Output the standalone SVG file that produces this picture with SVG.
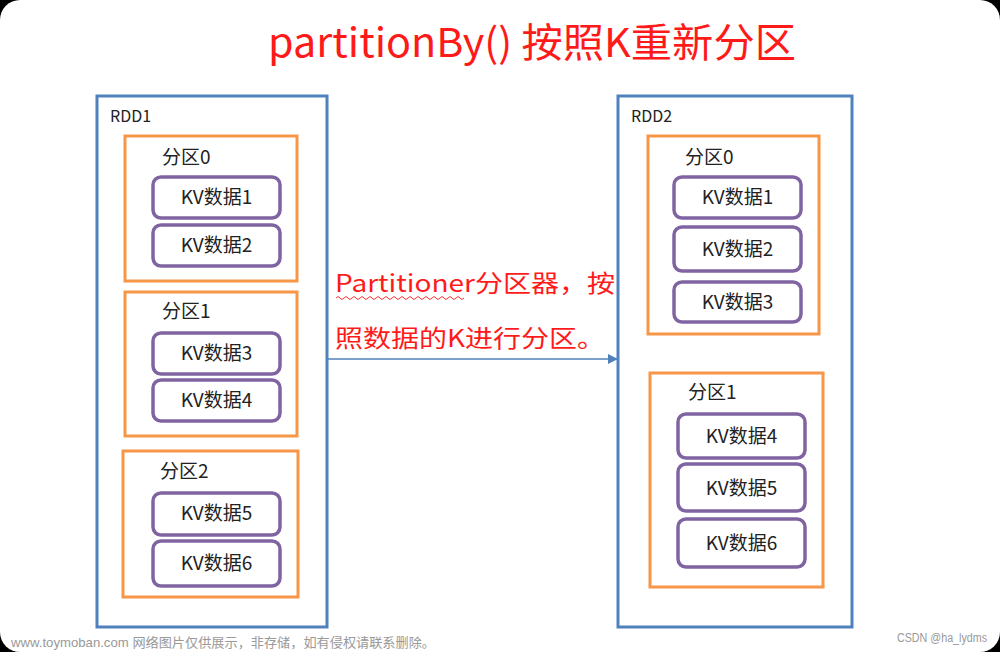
<svg xmlns="http://www.w3.org/2000/svg" width="1000" height="652" viewBox="0 0 1000 652">
<defs>
<style>
.rdd{fill:none;stroke:#4f81bd;stroke-width:3}
.part{fill:none;stroke:#f79646;stroke-width:3}
.kv{fill:#fff;stroke:#8064a2;stroke-width:3.5}
.t{font-family:"Noto Sans CJK SC","Noto Sans",sans-serif;fill:#222}
.kvt{font-size:19px;text-anchor:middle}
.pt{font-size:19px}
.red{font-family:"Noto Sans CJK SC","Noto Sans",sans-serif;fill:#ff1a1a}
.foot{font-family:"Liberation Sans","Noto Sans CJK SC",sans-serif;fill:#999}
</style>
<marker id="arr" viewBox="0 0 10 10" refX="9" refY="5" markerWidth="10" markerHeight="10" markerUnits="userSpaceOnUse" orient="auto">
<path d="M0,0 L10,5 L0,10 z" fill="#4f81bd"/>
</marker>
</defs>
<rect x="0" y="0" width="1000" height="652" fill="#000"/>
<rect x="0" y="0" width="1000" height="652" rx="20" ry="20" fill="#fff"/>

<text id="title" class="red" x="268" y="57" font-size="40" textLength="528" lengthAdjust="spacingAndGlyphs">partitionBy() 按照K重新分区</text>

<g id="connectors">
<line x1="328" y1="359" x2="617" y2="359" stroke="#4f81bd" stroke-width="1.5" marker-end="url(#arr)"/>
</g>
<g id="label">
<text class="red" x="335" y="292" font-size="24" textLength="280" lengthAdjust="spacingAndGlyphs">Partitioner分区器，按</text>
<path d="M336,298 q2,-3 4,0 t4,0 t4,0 t4,0 t4,0 t4,0 t4,0 t4,0 t4,0 t4,0 t4,0 t4,0 t4,0 t4,0 t4,0 t4,0 t4,0 t4,0 t4,0 t4,0 t4,0 t4,0 t4,0 t4,0 t4,0 t4,0 t4,0 t4,0 t4,0 t4,0 t4,0 t4,0" fill="none" stroke="#ff3333" stroke-width="1"/>
<text class="red" x="335" y="347" font-size="24" textLength="270" lengthAdjust="spacingAndGlyphs">照数据的K进行分区。</text>
</g>

<g id="rdd1">
<rect class="rdd" x="97" y="96" width="230" height="531"/>
<text class="t" x="110" y="122" font-size="16">RDD1</text>
</g>
<g id="rdd1-p0">
<rect class="part" x="125" y="136" width="172" height="145"/>
<text class="t pt" x="162" y="164">分区0</text>
</g>
<g id="rdd1-kv1"><rect class="kv" x="153" y="177" width="127" height="41" rx="8"/><text class="t kvt" x="216.5" y="204">KV数据1</text></g>
<g id="rdd1-kv2"><rect class="kv" x="153" y="225" width="127" height="41" rx="8"/><text class="t kvt" x="216.5" y="252">KV数据2</text></g>
<g id="rdd1-p1">
<rect class="part" x="125" y="292" width="172" height="144"/>
<text class="t pt" x="162" y="318">分区1</text>
</g>
<g id="rdd1-kv3"><rect class="kv" x="153" y="333" width="127" height="41" rx="8"/><text class="t kvt" x="216.5" y="360">KV数据3</text></g>
<g id="rdd1-kv4"><rect class="kv" x="153" y="380" width="127" height="41" rx="8"/><text class="t kvt" x="216.5" y="407">KV数据4</text></g>
<g id="rdd1-p2">
<rect class="part" x="123" y="451" width="175" height="146"/>
<text class="t pt" x="160" y="478">分区2</text>
</g>
<g id="rdd1-kv5"><rect class="kv" x="153" y="493" width="127" height="42" rx="8"/><text class="t kvt" x="216.5" y="520">KV数据5</text></g>
<g id="rdd1-kv6"><rect class="kv" x="153" y="541" width="127" height="45" rx="8"/><text class="t kvt" x="216.5" y="570">KV数据6</text></g>

<g id="rdd2">
<rect class="rdd" x="618" y="96" width="234" height="531"/>
<text class="t" x="631" y="122" font-size="16">RDD2</text>
</g>
<g id="rdd2-p0">
<rect class="part" x="648" y="136" width="171" height="198"/>
<text class="t pt" x="685" y="164">分区0</text>
</g>
<g id="rdd2-kv1"><rect class="kv" x="674" y="177" width="127" height="41" rx="8"/><text class="t kvt" x="737.5" y="204">KV数据1</text></g>
<g id="rdd2-kv2"><rect class="kv" x="674" y="227" width="127" height="44" rx="8"/><text class="t kvt" x="737.5" y="256">KV数据2</text></g>
<g id="rdd2-kv3"><rect class="kv" x="674" y="282" width="127" height="40" rx="8"/><text class="t kvt" x="737.5" y="309">KV数据3</text></g>
<g id="rdd2-p1">
<rect class="part" x="650" y="373" width="173" height="214"/>
<text class="t pt" x="688" y="399">分区1</text>
</g>
<g id="rdd2-kv4"><rect class="kv" x="678" y="414" width="127" height="44" rx="8"/><text class="t kvt" x="741.5" y="443">KV数据4</text></g>
<g id="rdd2-kv5"><rect class="kv" x="678" y="464" width="127" height="47" rx="8"/><text class="t kvt" x="741.5" y="495">KV数据5</text></g>
<g id="rdd2-kv6"><rect class="kv" x="678" y="519" width="127" height="48" rx="8"/><text class="t kvt" x="741.5" y="550">KV数据6</text></g>

<text class="foot" x="11" y="647" font-size="13" textLength="424" lengthAdjust="spacingAndGlyphs">www.toymoban.com 网络图片仅供展示，非存储，如有侵权请联系删除。</text>
<text class="foot" x="897" y="642" font-size="12" textLength="90" lengthAdjust="spacingAndGlyphs">CSDN @ha_lydms</text>
</svg>
